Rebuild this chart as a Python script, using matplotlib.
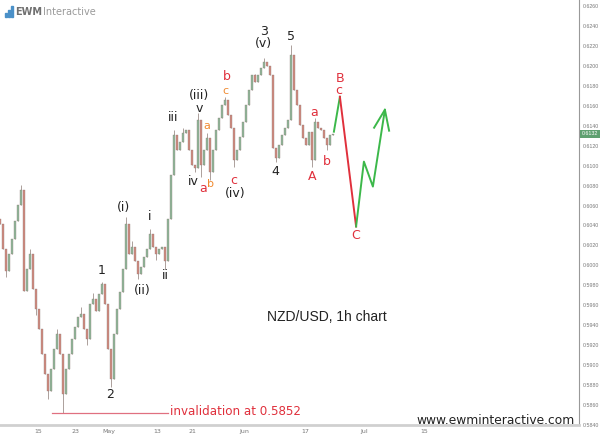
import matplotlib
matplotlib.use("Agg")
import matplotlib.pyplot as plt
from matplotlib.patches import Rectangle
import numpy as np

# ---- data ----
closes = [
    0.6041, 0.6016, 0.5994, 0.6011, 0.6026, 0.6044, 0.6061, 0.6076, 0.5974, 0.5996,
    0.6011, 0.5976, 0.5956, 0.5936, 0.5911, 0.5891, 0.5874, 0.5896, 0.5916, 0.5931,
    0.5911, 0.5871, 0.5896, 0.5911, 0.5926, 0.5938, 0.5948, 0.5951, 0.5936, 0.5926,
    0.5961, 0.5966, 0.5954, 0.5971, 0.5981, 0.5961, 0.5916, 0.5886, 0.5931, 0.5956,
    0.5973, 0.5996, 0.6041, 0.6011, 0.6018, 0.6004, 0.5991, 0.5998, 0.6008, 0.6016,
    0.6031, 0.6018, 0.6011, 0.6016, 0.6018, 0.6004, 0.6046, 0.6091, 0.6131, 0.6116,
    0.6124, 0.6133, 0.6136, 0.6116, 0.6101, 0.6098, 0.6146, 0.6101, 0.6116, 0.6128,
    0.6094, 0.6116, 0.6136, 0.6148, 0.6161, 0.6166, 0.6151, 0.6138, 0.6106, 0.6116,
    0.6129, 0.6144, 0.6161, 0.6176, 0.6191, 0.6184, 0.6191, 0.6198, 0.6204, 0.6200,
    0.6191, 0.6118, 0.6108, 0.6121, 0.6131, 0.6138, 0.6146, 0.6211, 0.6176, 0.6161,
    0.6141, 0.6128, 0.6121, 0.6134, 0.6106, 0.6144, 0.6138, 0.6136, 0.6128, 0.6121,
    0.6131, 0.6132,
]
first_open = 0.6046
spike_highs = {7: 0.6081, 10: 0.6016, 19: 0.5936, 27: 0.5958, 31: 0.5972, 34: 0.5983,
               42: 0.6048, 44: 0.6024, 50: 0.6036, 58: 0.6136, 61: 0.6138, 66: 0.6153,
               69: 0.6133, 75: 0.6169, 85: 0.6192, 88: 0.6208, 97: 0.6221, 105: 0.6148}
spike_lows = {2: 0.5988, 12: 0.5950, 16: 0.5866, 21: 0.5852, 29: 0.5920, 37: 0.5878,
              46: 0.5986, 52: 0.6005, 55: 0.5996, 65: 0.6094, 67: 0.6089, 70: 0.6086,
              78: 0.6099, 92: 0.6104, 104: 0.6099, 109: 0.6116}

# projected path (bar-index units, price)
proj_up1_x = [111.3, 113.3]
proj_up1_y = [0.6134, 0.6169]
proj_dn_x = [113.3, 118.7]
proj_dn_y = [0.6169, 0.6039]
proj_up2_x = [118.7, 121.3, 124.3, 128.3]
proj_up2_y = [0.6039, 0.6104, 0.6079, 0.6156]
arrow_l = [(124.7, 0.6138), (128.3, 0.6156), (129.7, 0.6135)]

xtick_pos = [12.7, 25.0, 36.3, 52.3, 64.3, 81.3, 101.7, 121.3, 141.3]
xtick_lab = ["15", "23", "May", "13", "21", "Jun", "17", "Jul", "15"]
yticks = [round(0.5840 + 0.002 * k, 4) for k in range(22)]
last_price = 0.6132
invalidation = 0.5852

black_labels = [("1", 34.0, 0.5995), ("2", 36.7, 0.5871), ("(i)", 41.0, 0.6058),
                ("(ii)", 47.3, 0.5975), ("i", 50.0, 0.6049), ("ii", 55.0, 0.5990),
                ("iii", 57.7, 0.6148), ("(iii)", 66.3, 0.6170), ("v", 66.3, 0.6157),
                ("iv", 64.6, 0.6084), ("(iv)", 78.3, 0.6072), ("3", 88.0, 0.6234),
                ("(v)", 87.7, 0.6222), ("4", 91.7, 0.6094), ("5", 97.0, 0.6229)]
red_labels = [("a", 67.6, 0.6077), ("c", 78.0, 0.6085), ("b", 75.7, 0.6189),
              ("A", 104.0, 0.6089), ("a", 104.7, 0.6153), ("b", 109.0, 0.6104),
              ("B", 113.3, 0.6187), ("c", 113.0, 0.6175), ("C", 118.7, 0.6030)]
orange_labels = [("a", 69.0, 0.6140), ("b", 70.3, 0.6082), ("c", 75.0, 0.6175)]

# ---- figure ----
W, H = 600, 437
fig = plt.figure(figsize=(W / 100, H / 100), dpi=100)
fig.patch.set_facecolor("white")
ax = fig.add_axes([0, 12 / H, 579 / W, 425 / H])
ax.set_facecolor("white")

n = len(closes)
x = np.arange(n)
opens = [first_open] + closes[:-1]
up_col, dn_col = "#8fb89a", "#d28a80"
wick_col = "#8c7a74"
for i in range(n):
    o, c = opens[i], closes[i]
    hi = max(o, c, spike_highs.get(i, -1))
    lo = min(o, c, spike_lows.get(i, 9))
    ax.vlines(x[i], lo, hi, color=wick_col, lw=0.5, zorder=2)
    col = up_col if c >= o else dn_col
    ax.bar(x[i], max(abs(c - o), 0.00008), bottom=min(o, c), width=0.45,
           color=col, edgecolor=wick_col, linewidth=0.25, zorder=3)

green, red = "#3cb84a", "#e0303c"
ax.plot(proj_up1_x, proj_up1_y, color=green, lw=1.4, zorder=4)
ax.plot(proj_dn_x, proj_dn_y, color=red, lw=1.4, zorder=4)
ax.plot(proj_up2_x, proj_up2_y, color=green, lw=1.4, zorder=4)
ax.plot([p[0] for p in arrow_l], [p[1] for p in arrow_l], color=green, lw=1.4, zorder=4)

# invalidation line
ax.plot([17.3, 56.0], [invalidation, invalidation], color="#e07080", lw=0.9)
ax.text(56.7, invalidation + 0.0002, "invalidation at 0.5852", color="#e0303c",
        fontsize=8.6, va="center", ha="left")

for lab, xx, yy in black_labels:
    ax.text(xx, yy, lab, color="#222222", fontsize=9, ha="center", va="center")
for lab, xx, yy in red_labels:
    ax.text(xx, yy, lab, color="#e0303c", fontsize=9, ha="center", va="center")
for lab, xx, yy in orange_labels:
    ax.text(xx, yy, lab, color="#f08a30", fontsize=8, ha="center", va="center")

ax.text(109, 0.5948, "NZD/USD, 1h chart", color="#222222", fontsize=10,
        family="Liberation Sans", ha="center", va="center")

ax.set_xlim(0, 193)
ax.set_ylim(0.5841, 0.6266)
ax.set_xticks(xtick_pos)
ax.set_xticklabels(xtick_lab)
ax.set_yticks(yticks)
ax.set_yticklabels([f"{v:.4f}" for v in yticks], family="Liberation Sans")
ax.yaxis.tick_right()
ax.tick_params(axis="y", labelsize=3.8, colors="#777777", length=0, pad=3)
ax.tick_params(axis="x", labelsize=4.5, colors="#777777", length=0, pad=3)
for s in ["left", "top"]:
    ax.spines[s].set_visible(False)
ax.spines["right"].set_color("#999999")
ax.spines["right"].set_linewidth(0.8)
ax.spines["bottom"].set_color("#d0d0d0")
ax.spines["bottom"].set_linewidth(2)

# current price tag
ax.annotate(f"{last_price:.4f}", xy=(1.0, last_price), xycoords=("axes fraction", "data"),
            xytext=(2.2, 0), textcoords="offset points", fontsize=3.8, color="white",
            family="Liberation Sans", va="center", ha="left",
            bbox=dict(boxstyle="square,pad=0.3", fc="#5fa070", ec="none"),
            annotation_clip=False)

# website
fig.text(575 / W, 1 - 420 / H, "www.ewminteractive.com", fontsize=8.8, color="#222222",
         ha="right", va="center")

# logo
bars = [(5, 13, 4), (8, 10, 7), (11, 6, 11)]
for bx, by, bh in bars:
    fig.patches.append(Rectangle((bx / W, 1 - (by + bh) / H), 1.6 / W, bh / H,
                                 transform=fig.transFigure, color="#4a90c8"))
t1 = fig.text(15 / W, 1 - 12 / H, "EWM", fontsize=7, color="#707070", weight="bold",
              va="center", ha="left")
fig.canvas.draw()
bb = t1.get_window_extent()
fig.text((bb.x1 + 1.5) / W, 1 - 12 / H, "Interactive", fontsize=7, color="#9a9a9a",
         va="center", ha="left")

fig.savefig("out.png", dpi=100)
